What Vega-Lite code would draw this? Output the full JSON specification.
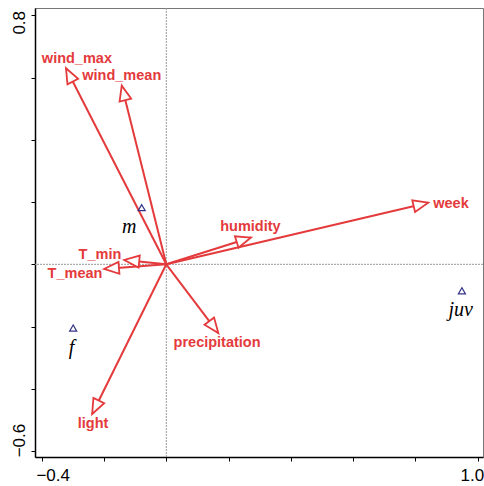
{
  "$schema": "https://vega.github.io/schema/vega-lite/v6.json",
  "autosize": "none",
  "width": 448,
  "height": 449,
  "padding": {"left": 35, "top": 8, "right": 1, "bottom": 29},
  "background": "white",
  "datasets": {
    "env": [
      {"var": "wind_max", "x": -0.322, "y": 0.630, "lx": -0.287, "ly": 0.660},
      {"var": "wind_mean", "x": -0.143, "y": 0.574, "lx": -0.143, "ly": 0.605},
      {"var": "week", "x": 0.841, "y": 0.198, "lx": 0.914, "ly": 0.194},
      {"var": "humidity", "x": 0.272, "y": 0.086, "lx": 0.270, "ly": 0.120},
      {"var": "precipitation", "x": 0.167, "y": -0.221, "lx": 0.163, "ly": -0.254},
      {"var": "light", "x": -0.238, "y": -0.481, "lx": -0.235, "ly": -0.512},
      {"var": "T_min", "x": -0.135, "y": 0.014, "lx": -0.213, "ly": 0.030},
      {"var": "T_mean", "x": -0.200, "y": -0.015, "lx": -0.293, "ly": -0.030}
    ],
    "species": [
      {"name": "m", "x": -0.079, "y": 0.182, "lx": -0.119, "ly": 0.121},
      {"name": "f", "x": -0.299, "y": -0.205, "lx": -0.304, "ly": -0.269},
      {"name": "juv", "x": 0.949, "y": -0.085, "lx": 0.945, "ly": -0.146}
    ]
  },
  "config": {
    "view": {"stroke": "#777777", "strokeWidth": 1},
    "axis": {
      "grid": false,
      "domainColor": "#000000",
      "domainWidth": 1.5,
      "tickColor": "#000000",
      "tickWidth": 1,
      "tickSize": 4,
      "labelFont": "Liberation Sans",
      "labelFontSize": 17,
      "labelColor": "#000000",
      "labelOverlap": false,
      "labelBound": false,
      "labelFlush": false
    }
  },
  "layer": [
    {
      "data": {"values": [{"z": 0}]},
      "mark": {"type": "rule", "color": "#999999", "strokeWidth": 1, "strokeDash": [2, 1]},
      "encoding": {
        "x": {
          "field": "z", "type": "quantitative",
          "scale": {"domain": [-0.4215, 1.0167], "nice": false, "zero": false},
          "axis": {
            "title": null,
            "values": [-0.4, -0.2, 0, 0.2, 0.4, 0.6, 0.8, 1.0],
            "format": ".1f",
            "labelExpr": "abs(datum.value + 0.4) < 0.001 || abs(datum.value - 1) < 0.001 ? datum.label : ''",
            "labelPadding": 6,
            "labelOffset": {"condition": {"test": "datum.value < 0", "value": 11}, "value": -6}
          }
        }
      }
    },
    {
      "data": {"values": [{"z": 0}]},
      "mark": {"type": "rule", "color": "#999999", "strokeWidth": 1, "strokeDash": [2, 1]},
      "encoding": {
        "y": {
          "field": "z", "type": "quantitative",
          "scale": {"domain": [-0.619, 0.8234], "nice": false, "zero": false},
          "axis": {
            "title": null,
            "values": [-0.6, -0.4, -0.2, 0, 0.2, 0.4, 0.6, 0.8],
            "format": ".1f",
            "labelAngle": -90,
            "labelAlign": "center",
            "labelBaseline": "bottom",
            "labelPadding": 3,
            "labelExpr": "abs(datum.value - 0.8) < 0.001 || abs(datum.value + 0.6) < 0.001 ? datum.label : ''",
            "labelOffset": {"condition": {"test": "datum.value > 0", "value": 7}, "value": -11}
          }
        }
      }
    },
    {
      "data": {"name": "env"},
      "mark": {"type": "rule", "color": "#e43a3c", "strokeWidth": 2},
      "encoding": {
        "x": {"field": "x", "type": "quantitative", "axis": {"title": null}},
        "y": {"field": "y", "type": "quantitative", "axis": {"title": null}},
        "x2": {"datum": 0},
        "y2": {"datum": 0}
      }
    },
    {
      "data": {"name": "env"},
      "transform": [{"calculate": "atan2(datum.x, datum.y) * 180 / PI", "as": "ang"}],
      "mark": {"type": "point", "shape": "M0,0L-0.4,1L0.4,1Z", "filled": true, "fill": "white", "stroke": "#e43a3c", "strokeWidth": 1.8, "size": 900, "opacity": 1},
      "encoding": {
        "x": {"field": "x", "type": "quantitative", "axis": {"title": null}},
        "y": {"field": "y", "type": "quantitative", "axis": {"title": null}},
        "angle": {"field": "ang", "type": "quantitative", "scale": null}
      }
    },
    {
      "data": {"name": "env"},
      "mark": {"type": "text", "font": "Liberation Sans", "fontWeight": "bold", "fontSize": 14.5, "color": "#e43a3c", "align": "center", "baseline": "middle"},
      "encoding": {
        "x": {"field": "lx", "type": "quantitative", "axis": {"title": null}},
        "y": {"field": "ly", "type": "quantitative", "axis": {"title": null}},
        "text": {"field": "var"}
      }
    },
    {
      "data": {"name": "species"},
      "mark": {"type": "point", "shape": "triangle-up", "filled": false, "stroke": "#34348a", "strokeWidth": 1.2, "size": 50, "opacity": 1},
      "encoding": {
        "x": {"field": "x", "type": "quantitative", "axis": {"title": null}},
        "y": {"field": "y", "type": "quantitative", "axis": {"title": null}}
      }
    },
    {
      "data": {"name": "species"},
      "mark": {"type": "text", "font": "Liberation Serif", "fontStyle": "italic", "fontSize": 20, "color": "#000000", "align": "center", "baseline": "middle"},
      "encoding": {
        "x": {"field": "lx", "type": "quantitative", "axis": {"title": null}},
        "y": {"field": "ly", "type": "quantitative", "axis": {"title": null}},
        "text": {"field": "name"}
      }
    }
  ]
}
